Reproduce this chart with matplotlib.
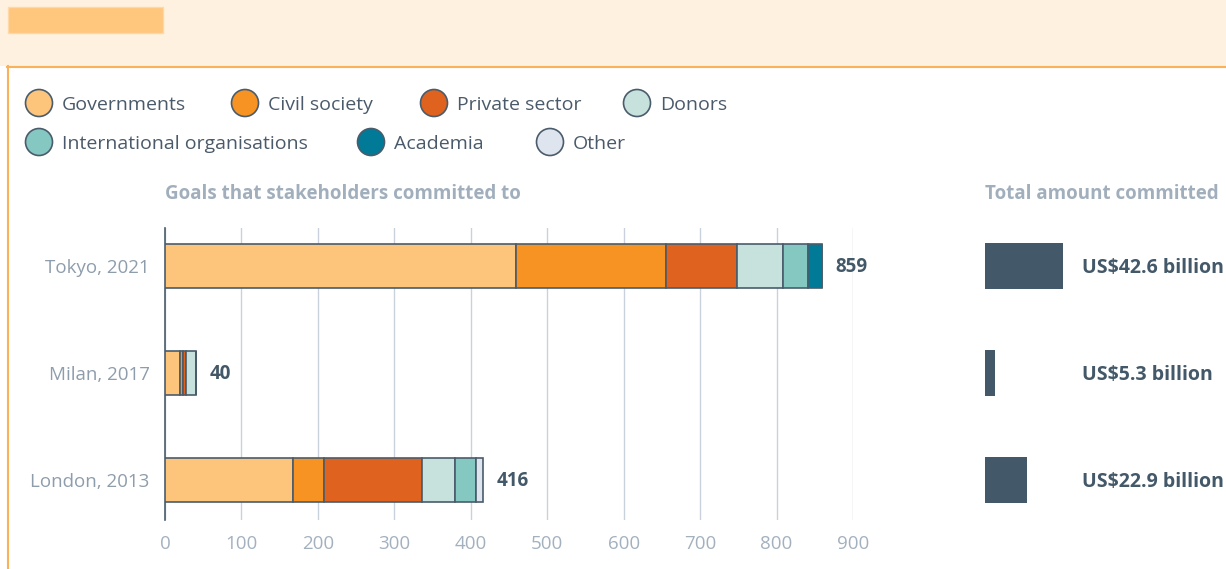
"""Pledging summits: goals that stakeholders committed to, stacked by
stakeholder type, next to the total amount committed at each summit."""
import matplotlib
matplotlib.use("Agg")
import matplotlib.pyplot as plt
from matplotlib.patches import Circle, Rectangle
from matplotlib.transforms import blended_transform_factory, offset_copy

plt.rcParams["font.family"] = ["Open Sans", "DejaVu Sans"]

# data, bottom to top as drawn
SUMMITS = ["London, 2013", "Milan, 2017", "Tokyo, 2021"]
GROUPS = ["Governments", "Civil society", "Private sector", "Donors",
          "International organisations", "Academia", "Other"]
GOVERNMENTS = [168, 20, 459]
CIVIL_SOCIETY = [40, 3, 197]
PRIVATE_SECTOR = [128, 4, 92]
DONORS = [44, 13, 60]
INTL_ORGS = [27, 0, 33]
ACADEMIA = [0, 0, 18]
OTHER = [9, 0, 0]
TOTAL_GOALS = [416, 40, 859]
AMOUNT_BN = [22.9, 5.3, 42.6]
AMOUNT_LABELS = ["US$22.9 billion", "US$5.3 billion", "US$42.6 billion"]

COLORS = ["#FDC57B", "#F79322", "#E0621F", "#C7E2DD", "#85C8C2", "#007A96", "#DEE5EE"]
EDGE = "#4A5C6C"
DARK = "#435868"
GREY = "#8E9DAC"
TICK = "#A3B1BF"

W, H = 1226, 569
fig = plt.figure(figsize=(W / 100, H / 100), dpi=100)
fig.patch.set_facecolor("white")


def px(x0, y0, x1, y1):
    """Pixel box (top-left origin) -> figure fraction rect."""
    return [x0 / W, 1 - y1 / H, (x1 - x0) / W, (y1 - y0) / H]


# frame: cream header band, placeholder title block, orange panel border
bg = fig.add_axes([0, 0, 1, 1], zorder=-5)
bg.set_xlim(0, W)
bg.set_ylim(H, 0)
bg.axis("off")
bg.add_patch(Rectangle((0, 0), W, 66, color="#FEF1DF", lw=0))
bg.add_patch(Rectangle((8, 7), 155, 26, fc="#FFC67D", ec="#FFD8A6", lw=1))
bg.plot([7, W], [66.5, 66.5], color="#F9B25A", lw=1.5)
bg.plot([7.5, 7.5], [66, H], color="#F9B25A", lw=1.5)

# legend, two rows of circle swatches
leg_pos = [(39, 103), (245, 103), (434, 103), (637, 103),
           (39, 142), (371, 142), (550, 142)]
for (cx, cy), name, c in zip(leg_pos, GROUPS, COLORS):
    bg.add_patch(Circle((cx, cy), 13.5, fc=c, ec=EDGE, lw=1.2))
    bg.text(cx + 23, cy + 1.5, name, fontsize=14, color="#4A5A6A",
            va="center", ha="left")

bg.text(165, 194, "Goals that stakeholders committed to", fontsize=13.5,
        fontweight="bold", color="#A1AFBD", va="center")
bg.text(985, 194, "Total amount committed", fontsize=13.5,
        fontweight="bold", color="#A1AFBD", va="center")

# stacked goal bars
ys = list(range(len(SUMMITS)))
ylim = (-0.374, -0.374 + 292 / 107)
ax = fig.add_axes(px(165, 228, 853, 520))
ax.set_xlim(0, 900)
ax.set_ylim(*ylim)
left = [0] * len(SUMMITS)
for vals, c in zip([GOVERNMENTS, CIVIL_SOCIETY, PRIVATE_SECTOR, DONORS,
                    INTL_ORGS, ACADEMIA, OTHER], COLORS):
    ax.barh(ys, vals, left=left, height=0.42, color=c, edgecolor=EDGE,
            lw=1.2, zorder=3)
    left = [a + b for a, b in zip(left, vals)]
down = offset_copy(ax.transData, fig=fig, y=-1.5, units="dots")
for y, tot in zip(ys, TOTAL_GOALS):
    ax.text(tot + 18, y, f"{tot}", transform=down, fontsize=13.5,
            fontweight="bold", color=DARK, va="center", ha="left")
ax.set_xticks(range(0, 901, 100))
ax.set_yticks(ys)
ax.set_yticklabels(SUMMITS)
ax.tick_params(axis="x", length=0, pad=11, labelsize=13.5, labelcolor=TICK)
ax.tick_params(axis="y", length=0, pad=11, labelsize=13.5, labelcolor=GREY)
ax.grid(True, axis="x", color="#C9D2DC", lw=1)
ax.set_axisbelow(True)
for s in ("top", "right", "bottom"):
    ax.spines[s].set_visible(False)
ax.spines["left"].set_color(EDGE)
ax.spines["left"].set_linewidth(1.2)
ax.patch.set_alpha(0)

# total amount committed
ax2 = fig.add_axes(px(985, 228, W, 520))
ax2.set_xlim(0, (W - 985) / 1.83)
ax2.set_ylim(*ylim)
ax2.barh(ys, AMOUNT_BN, height=0.43, color=DARK, lw=0)
tr = offset_copy(blended_transform_factory(ax2.transAxes, ax2.transData),
                 fig=fig, y=-2, units="dots")
for y, lab in zip(ys, AMOUNT_LABELS):
    ax2.text(0.4025, y, lab, transform=tr, fontsize=14, fontweight="bold",
             color=DARK, va="center", ha="left", clip_on=False)
ax2.axis("off")

fig.savefig("out.png", dpi=100)
